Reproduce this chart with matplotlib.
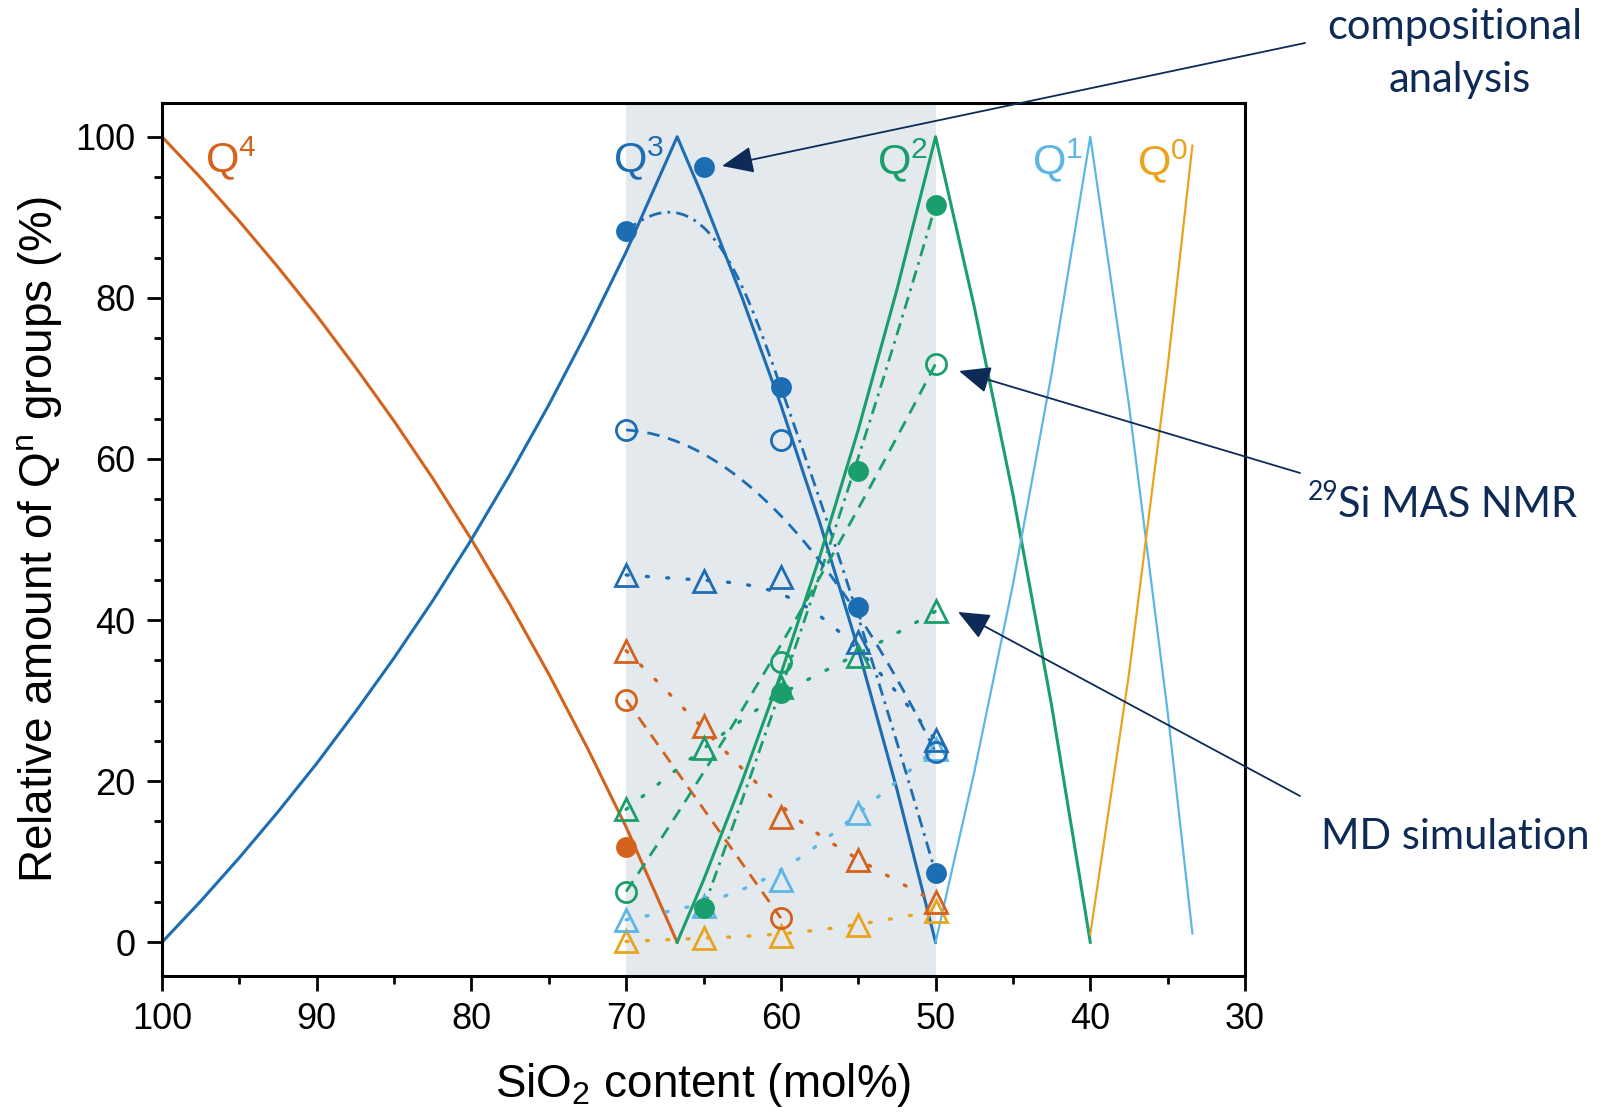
import numpy as np
import matplotlib
matplotlib.use("Agg")
import matplotlib.pyplot as plt
from matplotlib.ticker import MultipleLocator

plt.rcParams['font.family'] = ['Liberation Sans', 'DejaVu Sans']
plt.rcParams['mathtext.fontset'] = 'custom'
plt.rcParams['mathtext.rm'] = 'Liberation Sans'
plt.rcParams['mathtext.it'] = 'Liberation Sans:italic'
plt.rcParams['mathtext.default'] = 'regular'

# ---- structural model curves (Q^n fraction vs SiO2 content) ----
x_q4 = [100, 97.5, 95, 92.5, 90, 87.5, 85, 82.5, 80, 77.5, 75, 72.5, 70, 66.7]
q4_model = [100, 94.9, 89.5, 83.8, 77.8, 71.4, 64.7, 57.6, 50, 41.9, 33.3, 24.1, 14.3, 0]

x_q3 = [100, 97.5, 95, 92.5, 90, 87.5, 85, 82.5, 80, 77.5, 75, 72.5, 70, 66.7,
        65, 62.5, 60, 57.5, 55, 52.5, 50]
q3_model = [0, 5.1, 10.5, 16.2, 22.2, 28.6, 35.3, 42.4, 50, 58.1, 66.7, 75.9, 85.7, 100,
            92.3, 80, 66.7, 52.2, 36.4, 19.0, 0]

x_q2 = [66.7, 65, 62.5, 60, 57.5, 55, 52.5, 50, 47.5, 45, 42.5, 40]
q2_model = [0, 7.7, 20, 33.3, 47.8, 63.6, 81.0, 100, 78.9, 55.6, 29.4, 0]

x_q1 = [50, 47.5, 45, 42.5, 40, 37.5, 35, 33.4]
q1_model = [0, 21.1, 44.4, 70.6, 100, 66.7, 28.6, 1.1]

x_q0 = [40, 37.5, 35, 33.4]
q0_model = [1, 33.3, 71.4, 98.9]

# ---- measured / simulated glass compositions ----
x_glass = [70, 65, 60, 55, 50]

# compositional analysis (filled circles)
x_comp_q4 = [70]
comp_q4 = [11.8]
comp_q3 = [88.3, 96.2, 68.9, 41.6, 8.6]
x_comp_q2 = [65, 60, 55, 50]
comp_q2 = [4.2, 31.0, 58.5, 91.5]

# 29Si MAS NMR (open circles)
x_nmr = [70, 60, 50]
x_nmr_q4 = [70, 60]
nmr_q4 = [30.1, 3.0]
nmr_q3 = [63.6, 62.3, 23.6]
nmr_q2 = [6.3, 34.8, 71.8]

# MD simulation (open triangles)
md_q4 = [36.2, 26.8, 15.5, 10.2, 5.0]
md_q3 = [45.6, 44.8, 45.4, 37.3, 25.1]
md_q2 = [16.5, 24.1, 31.7, 35.5, 41.1]
md_q1 = [2.8, 4.5, 7.7, 16.0, 24.0]
md_q0 = [0.1, 0.5, 0.8, 2.1, 3.9]

c_q4 = '#D4621C'
c_q3 = '#1D6DB2'
c_q2 = '#1A9E6C'
c_q1 = '#5CB6E6'
c_q0 = '#E9A41D'
navy = '#0D2B56'


def bspline(xs, ys, n=300):
    """Clamped B-spline (degree <= 3) using the points as control polygon."""
    pts = np.column_stack([xs, ys]).astype(float)
    m = len(pts)
    k = min(3, m - 1)
    if k <= 1:
        return pts[:, 0], pts[:, 1]
    inner = np.linspace(0, 1, m - k + 1)
    knots = np.concatenate([np.zeros(k), inner, np.ones(k)])
    t = np.linspace(0, 1, n)
    N = np.zeros((n, len(knots) - 1))
    for i in range(len(knots) - 1):
        N[:, i] = (t >= knots[i]) & (t < knots[i + 1])
    last = np.max(np.nonzero(knots[:-1] < knots[1:]))
    N[t >= 1, :] = 0
    N[t >= 1, last] = 1
    for p in range(1, k + 1):
        Nn = np.zeros((n, len(knots) - 1 - p))
        for i in range(len(knots) - 1 - p):
            d1 = knots[i + p] - knots[i]
            d2 = knots[i + p + 1] - knots[i + 1]
            a = (t - knots[i]) / d1 * N[:, i] if d1 > 0 else 0
            b = (knots[i + p + 1] - t) / d2 * N[:, i + 1] if d2 > 0 else 0
            Nn[:, i] = a + b
        N = Nn
    curve = N @ pts
    return curve[:, 0], curve[:, 1]


W, H = 1605, 1118
fig = plt.figure(figsize=(W / 100, H / 100), dpi=100)
ax = fig.add_axes([162 / W, 1 - 975.7 / H, (1245 - 162) / W, (975.7 - 103.3) / H])

ax.axvspan(70, 50, color='#E4E9EE', zorder=0, lw=0)

# model lines
ax.plot(x_q4, q4_model, color=c_q4, lw=2.2, zorder=2)
ax.plot(x_q3, q3_model, color=c_q3, lw=2.2, zorder=2)
ax.plot(x_q2, q2_model, color=c_q2, lw=2.2, zorder=2)
ax.plot(x_q1, q1_model, color=c_q1, lw=1.6, zorder=2)
ax.plot(x_q0, q0_model, color=c_q0, lw=1.6, zorder=2)

dashdot = (0, (4.5, 2.2, 1, 2.2))
dashed = (0, (4.5, 3.2))
dotted = (0, (0.6, 5.5))

# compositional analysis guide curves
for xs, ys, col in [(x_glass, comp_q3, c_q3), (x_comp_q2, comp_q2, c_q2)]:
    bx, by = bspline(xs, ys)
    ax.plot(bx, by, color=col, lw=2.0, ls=dashdot, zorder=3)
# NMR guide curves
for xs, ys, col in [(x_nmr_q4, nmr_q4, c_q4), (x_nmr, nmr_q3, c_q3), (x_nmr, nmr_q2, c_q2)]:
    bx, by = bspline(xs, ys)
    ax.plot(bx, by, color=col, lw=2.0, ls=dashed, zorder=3)
# MD guide curves
for ys, col in [(md_q0, c_q0), (md_q1, c_q1), (md_q4, c_q4), (md_q2, c_q2), (md_q3, c_q3)]:
    bx, by = bspline(x_glass, ys)
    ax.plot(bx, by, color=col, lw=2.4, ls=dotted, dash_capstyle='round', zorder=3)

# markers
tri_kw = dict(ls='none', marker='^', ms=16, mfc='none', mew=2.0, zorder=5)
for ys, col in [(md_q0, c_q0), (md_q1, c_q1), (md_q4, c_q4), (md_q2, c_q2), (md_q3, c_q3)]:
    ax.plot(x_glass, ys, mec=col, **tri_kw)

oc_kw = dict(ls='none', marker='o', ms=14.5, mfc='none', mew=2.0, zorder=5)
ax.plot(x_nmr_q4, nmr_q4, mec=c_q4, **oc_kw)
ax.plot(x_nmr, nmr_q3, mec=c_q3, **oc_kw)
ax.plot(x_nmr, nmr_q2, mec=c_q2, **oc_kw)

fc_kw = dict(ls='none', marker='o', ms=15, mew=0, zorder=6)
ax.plot(x_comp_q4, comp_q4, color=c_q4, **fc_kw)
ax.plot(x_glass, comp_q3, color=c_q3, **fc_kw)
ax.plot(x_comp_q2, comp_q2, color=c_q2, **fc_kw)

# Q^n labels
for txt, x, y, col in [('Q$^{4}$', 97.2, 95.6, c_q4), ('Q$^{3}$', 70.85, 95.6, c_q3),
                       ('Q$^{2}$', 53.8, 95.4, c_q2), ('Q$^{1}$', 43.76, 95.4, c_q1),
                       ('Q$^{0}$', 36.97, 95.2, c_q0)]:
    ax.text(x, y, txt, color=col, fontsize=31, ha='left', va='baseline', zorder=7)

ax.set_xlim(100, 30)
ax.set_ylim(-4.15, 104.15)
ax.xaxis.set_major_locator(MultipleLocator(10))
ax.xaxis.set_minor_locator(MultipleLocator(5))
ax.yaxis.set_major_locator(MultipleLocator(20))
ax.yaxis.set_minor_locator(MultipleLocator(5))
ax.tick_params(which='both', direction='out', width=2, colors='black')
ax.tick_params(which='major', length=11, labelsize=26, pad=8)
ax.tick_params(which='minor', length=6)
for s in ax.spines.values():
    s.set_linewidth(2.2)

ax.set_xlabel('SiO$_2$ content (mol%)', fontsize=33, labelpad=17)
ax.set_ylabel('Relative amount of Q$^{\\mathrm{n}}$ groups (%)', fontsize=33, labelpad=8)

# callouts
ann_font = ['Lato', 'DejaVu Sans']


def fig_xy(px, py):
    return px / W, 1 - py / H


fig.text(*fig_xy(1455, 27), 'compositional', color=navy, fontsize=30, family=ann_font,
         ha='center', va='center')
fig.text(*fig_xy(1460, 80), 'analysis', color=navy, fontsize=30, family=ann_font,
         ha='center', va='center')
fig.text(*fig_xy(1338, 505), 'Si MAS NMR', color=navy, fontsize=30, family=ann_font,
         ha='left', va='center')
fig.text(*fig_xy(1338, 493), '29', color=navy, fontsize=19, family=ann_font,
         ha='right', va='center')
fig.text(*fig_xy(1455, 837), 'MD simulation', color=navy, fontsize=30, family=ann_font,
         ha='center', va='center')

arrows = [((1305, 43), (722, 166)), ((1300, 473), (959, 371)), ((1300, 796), (958, 612))]
for (sx, sy), (tx, ty) in arrows:
    fig.add_artist(matplotlib.patches.FancyArrowPatch(
        fig_xy(sx, sy), fig_xy(tx, ty), transform=fig.transFigure,
        arrowstyle='-|>,head_length=0.75,head_width=0.32', mutation_scale=26,
        color=navy, lw=1.3, shrinkA=0, shrinkB=0))

fig.savefig('out.png', dpi=100)
